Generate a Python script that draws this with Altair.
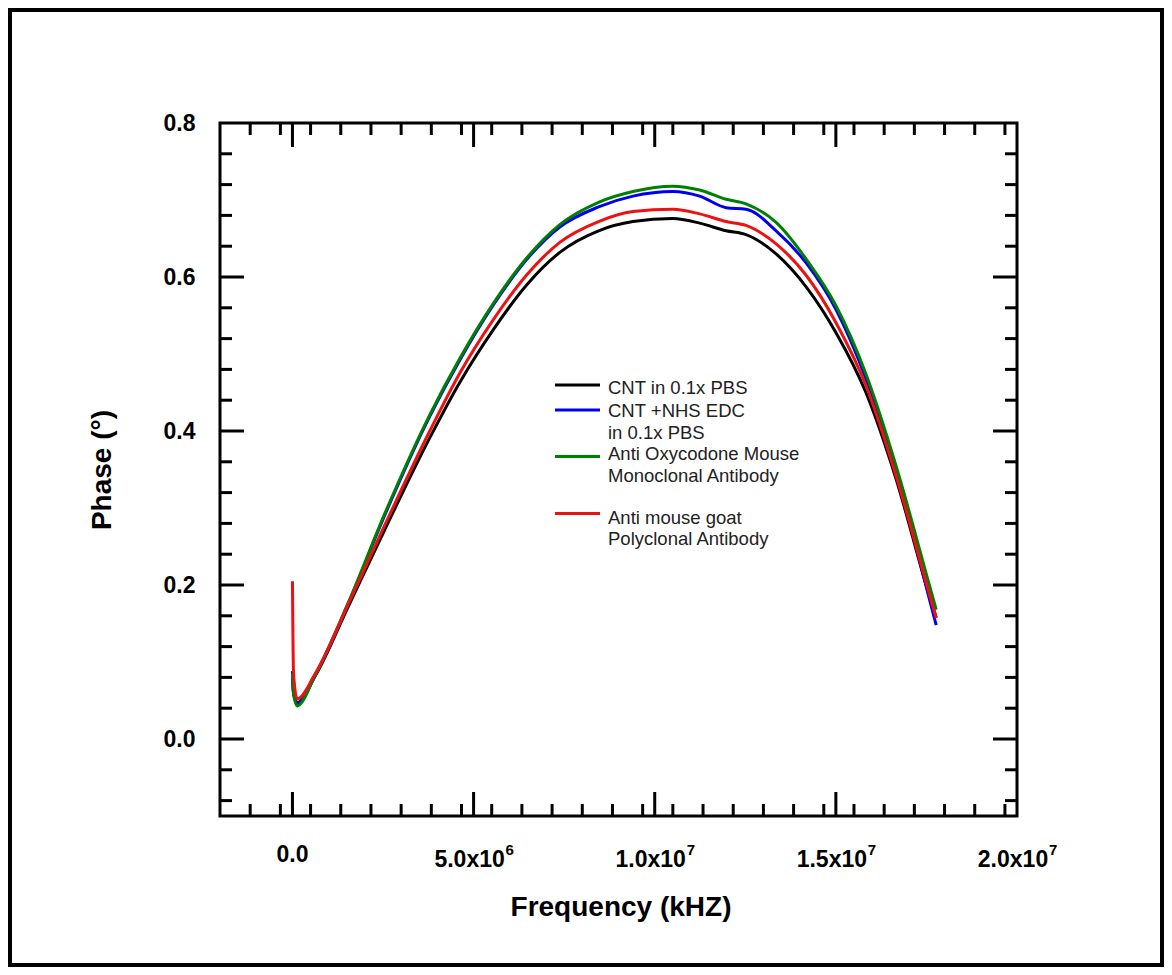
import altair as alt
import pandas as pd
import numpy as np

# ---------------- data ----------------
freq = [0.0, 0.03e6, 0.13e6, 0.63e6, 1.55e6, 2.56e6, 3.8e6, 4.63e6, 5.55e6, 6.47e6,
        7.38e6, 8.45e6, 9.4e6, 10.5e6, 11.24e6, 11.97e6, 12.52e6, 13.35e6, 14.2e6,
        15.0e6, 15.83e6, 16.66e6, 17.58e6, 17.77e6]

phase_cnt = [0.088, 0.060, 0.047, 0.082, 0.173, 0.273, 0.392, 0.464, 0.532, 0.590,
             0.632, 0.660, 0.672, 0.676, 0.670, 0.660, 0.655, 0.630, 0.586,
             0.528, 0.450, 0.338, 0.186, 0.158]
phase_nhs = [0.087, 0.060, 0.046, 0.083, 0.177, 0.292, 0.420, 0.493, 0.564, 0.623,
             0.665, 0.691, 0.705, 0.711, 0.705, 0.690, 0.688, 0.660, 0.617,
             0.558, 0.468, 0.351, 0.182, 0.148]
phase_oxy = [0.085, 0.058, 0.043, 0.083, 0.178, 0.294, 0.422, 0.495, 0.566, 0.625,
             0.668, 0.697, 0.711, 0.718, 0.713, 0.701, 0.695, 0.671, 0.622,
             0.563, 0.474, 0.355, 0.200, 0.168]
phase_goat = [0.205, 0.085, 0.052, 0.085, 0.176, 0.279, 0.401, 0.476, 0.545, 0.603,
              0.645, 0.672, 0.685, 0.688, 0.682, 0.672, 0.667, 0.643, 0.601,
              0.541, 0.459, 0.342, 0.188, 0.157]

series_names = ["CNT in 0.1x PBS", "CNT +NHS EDC in 0.1x PBS",
                "Anti Oxycodone Mouse Monoclonal Antibody",
                "Anti mouse goat Polyclonal Antibody"]
series_values = [phase_cnt, phase_nhs, phase_oxy, phase_goat]
series_colors = ["#000000", "#0000ee", "#008000", "#ee1111"]

legend_labels = ["CNT in 0.1x PBS", "CNT +NHS EDC\nin 0.1x PBS",
                 "Anti Oxycodone Mouse\nMonoclonal Antibody",
                 "Anti mouse goat\nPolyclonal Antibody"]

x_major = [0, 5e6, 1e7, 1.5e7, 2e7]
x_mantissa = ["0.0", "5.0", "1.0", "1.5", "2.0"]
x_exponent = ["", "6", "7", "7", "7"]
y_major = [0.0, 0.2, 0.4, 0.6, 0.8]

# ---------------- layout ----------------
W, H = 797, 693
PAD = {"left": 212, "top": 115, "right": 147, "bottom": 151}
FONT = "Liberation Sans"

xscale = alt.Scale(domain=[-2e6, 2e7], nice=False, zero=False)
yscale = alt.Scale(domain=[-0.1, 0.8], nice=False, zero=False)

X_AX = alt.Axis(labels=False, ticks=False, domain=False, grid=False,
                title="Frequency (kHZ)", titleFont=FONT, titleFontSize=28,
                titleFontWeight="bold", titleColor="#000",
                titleX=W / 2 + 2, titleY=91, titleBaseline="middle", titleAlign="center")
Y_AX = alt.Axis(values=y_major, format=".1f", ticks=False, domain=False,
                grid=False, labelFont=FONT, labelFontSize=23,
                labelFontWeight="bold", labelColor="#000", labelPadding=25,
                title="Phase (°)", titleFont=FONT, titleFontSize=28,
                titleFontWeight="bold", titleColor="#000",
                titleAngle=270, titleX=-118, titleY=H / 2,
                titleBaseline="middle", titleAlign="center")

# ---------------- curves ----------------
layers = []
for i, (name, vals, col) in enumerate(zip(series_names, series_values, series_colors)):
    d = pd.DataFrame({"freq": freq, "phase": vals, "idx": range(len(freq)), "series": name})
    layers.append(
        alt.Chart(d).mark_line(color=col, strokeWidth=3, interpolate="monotone").encode(
            x=alt.X("freq:Q", scale=xscale, axis=X_AX),
            y=alt.Y("phase:Q", scale=yscale, axis=Y_AX),
            order="idx:Q",
        )
    )

# ---------------- inward tick marks ----------------
x_minor = [v for v in np.arange(-2e6, 2e7 + 1, 5e6 / 6) if all(abs(v - m) > 1 for m in x_major)
           and -2e6 < v < 2e7 - 1]
x_maj_in = [v for v in x_major if -2e6 < v < 2e7 - 1]
y_minor = [v for v in np.arange(-0.08, 0.8, 0.04) if all(abs(v - m) > 1e-6 for m in y_major)]
y_maj_in = [v for v in y_major if v < 0.8 - 1e-6]

def xticks(vals, length, top):
    d = pd.DataFrame({"freq": vals})
    if top:
        yy, yy2 = 0, length
    else:
        yy, yy2 = H, H - length
    return alt.Chart(d).mark_rule(color="#000", strokeWidth=3).encode(
        x=alt.X("freq:Q", scale=xscale, axis=X_AX),
        y=alt.value(yy), y2=alt.value(yy2))

def yticks(vals, length, right):
    d = pd.DataFrame({"phase": vals})
    if right:
        xx, xx2 = W, W - length
    else:
        xx, xx2 = 0, length
    return alt.Chart(d).mark_rule(color="#000", strokeWidth=3).encode(
        y=alt.Y("phase:Q", scale=yscale, axis=Y_AX),
        x=alt.value(xx), x2=alt.value(xx2))

ticks = [xticks(x_maj_in, 24, False), xticks(x_minor, 12, False),
         xticks(x_maj_in, 24, True), xticks(x_minor, 12, True),
         yticks(y_maj_in, 24, False), yticks(y_minor, 12, False),
         yticks(y_maj_in, 24, True), yticks(y_minor, 12, True)]

# ---------------- x tick labels with superscripts ----------------
xl = pd.DataFrame({"freq": x_major, "m": x_mantissa, "e": x_exponent})
lab_plain = alt.Chart(xl).transform_filter("datum.e == ''").mark_text(
    font=FONT, fontSize=23, fontWeight="bold", color="#000", baseline="middle", align="center"
).encode(x=alt.X("freq:Q", scale=xscale, axis=X_AX), y=alt.value(H + 39), text="m:N")
lab_main = alt.Chart(xl).transform_filter("datum.e != ''").transform_calculate(
    t="datum.m + 'x10'").mark_text(
    font=FONT, fontSize=23, fontWeight="bold", color="#000", baseline="middle",
    align="center", dx=-4
).encode(x=alt.X("freq:Q", scale=xscale, axis=X_AX), y=alt.value(H + 44), text="t:N")
lab_exp = alt.Chart(xl).transform_filter("datum.e != ''").mark_text(
    font=FONT, fontSize=15, fontWeight="bold", color="#000", baseline="middle",
    align="left", dx=32
).encode(x=alt.X("freq:Q", scale=xscale, axis=X_AX), y=alt.value(H + 34), text="e:N")

# ---------------- legend (inside the plot) ----------------
one = pd.DataFrame({"a": [0]})
leg_line_y = [262, 287, 333.5, 390.5]
leg_text_y = [263.5, 287, 330, 393.5]
legend_layers = []
for lab, col, ly, ty in zip(legend_labels, series_colors, leg_line_y, leg_text_y):
    legend_layers.append(alt.Chart(one).mark_rule(color=col, strokeWidth=3).encode(
        x=alt.value(335), x2=alt.value(380), y=alt.value(ly)))
    legend_layers.append(alt.Chart(one).mark_text(
        font=FONT, fontSize=18.5, color="#222", align="left", baseline="top",
        lineBreak="\n", lineHeight=21.7
    ).encode(x=alt.value(388), y=alt.value(ty - 8), text=alt.value(lab)))

# ---------------- outer border ----------------
border = alt.Chart(one).mark_rect(fillOpacity=0, stroke="#000", strokeWidth=4).encode(
    x=alt.value(-PAD["left"] + 2), x2=alt.value(W + PAD["right"] - 2),
    y=alt.value(-PAD["top"] + 2), y2=alt.value(H + PAD["bottom"] - 2))

chart = alt.layer(*layers, *ticks, lab_plain, lab_main, lab_exp, *legend_layers, border).properties(
    width=W, height=H,
    autosize=alt.AutoSizeParams(type="none"),
    padding=PAD,
    background="white",
).configure_view(stroke="#000", strokeWidth=3)

chart.save("out.html", embed_options={"renderer": "svg", "actions": False})
